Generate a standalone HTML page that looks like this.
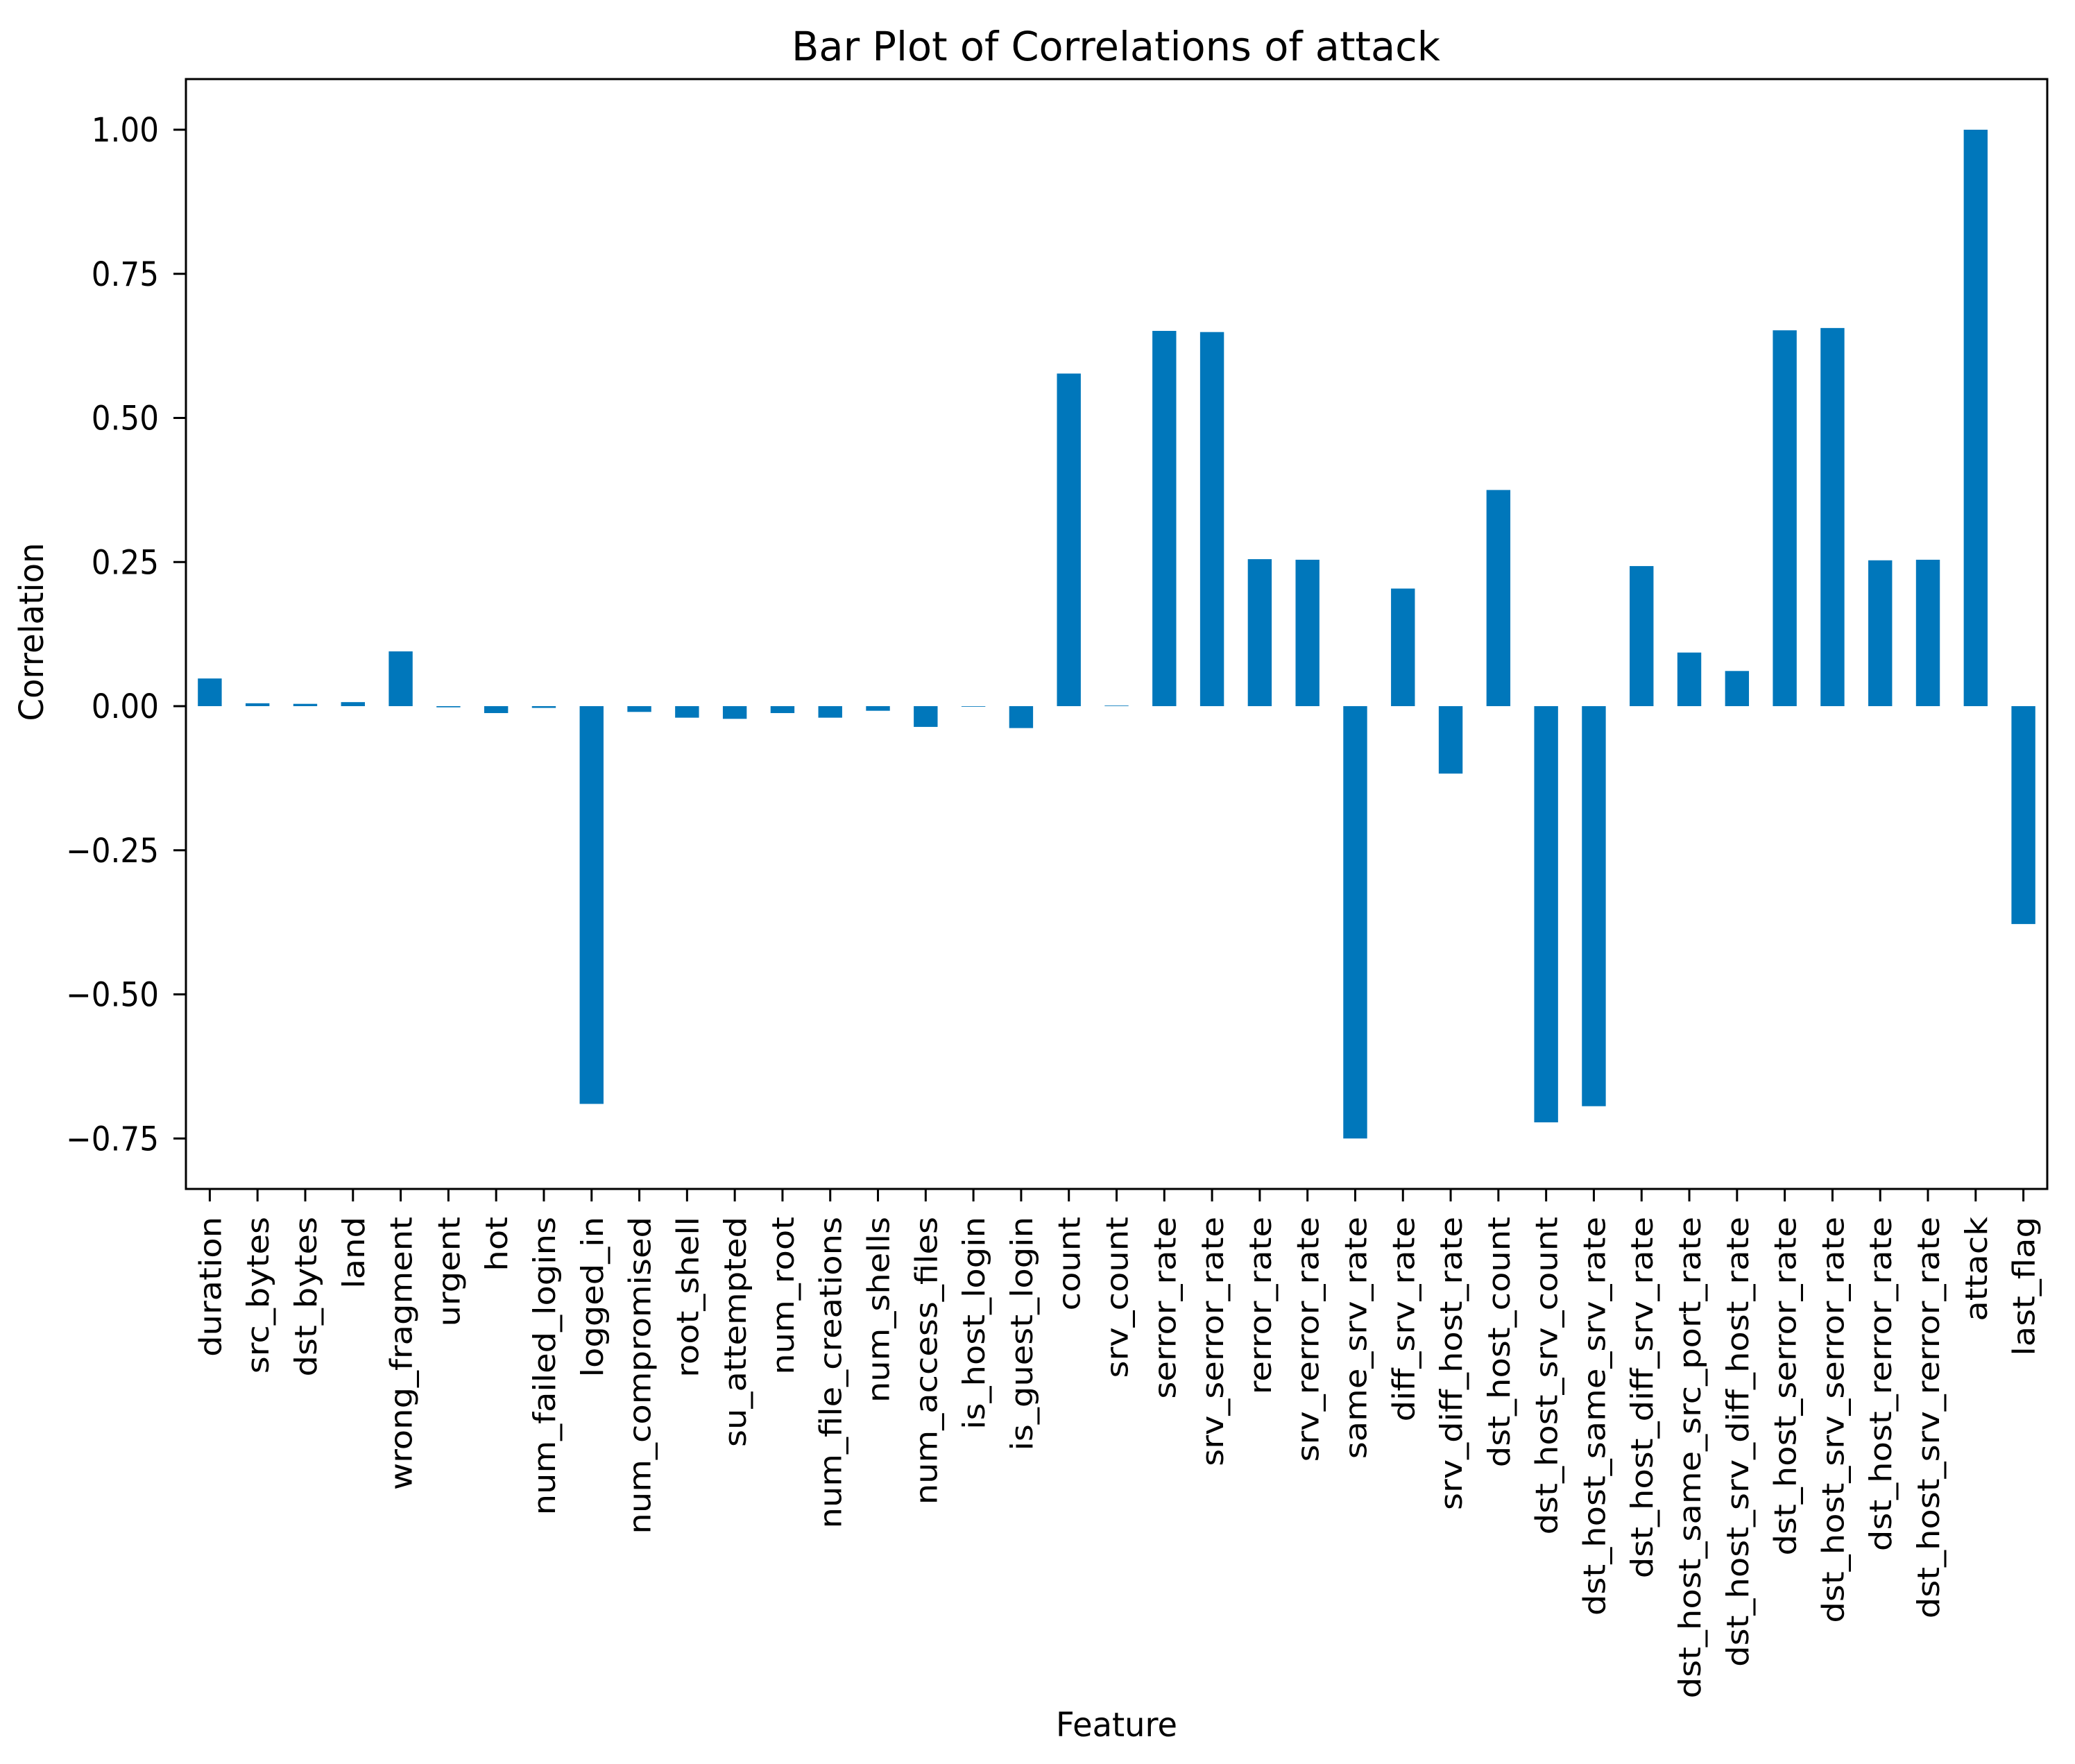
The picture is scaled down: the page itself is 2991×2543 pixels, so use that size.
<!DOCTYPE html>
<html><head><meta charset="utf-8"><style>body{margin:0;background:#fff}svg{display:block}text{font-family:"DejaVu Sans","Liberation Sans",sans-serif;fill:#000}</style></head>
<body>
<svg id="c" width="2991" height="2543"></svg>
<script>
const categories=["duration","src_bytes","dst_bytes","land","wrong_fragment","urgent","hot","num_failed_logins","logged_in","num_compromised","root_shell","su_attempted","num_root","num_file_creations","num_shells","num_access_files","is_host_login","is_guest_login","count","srv_count","serror_rate","srv_serror_rate","rerror_rate","srv_rerror_rate","same_srv_rate","diff_srv_rate","srv_diff_host_rate","dst_host_count","dst_host_srv_count","dst_host_same_srv_rate","dst_host_diff_srv_rate","dst_host_same_src_port_rate","dst_host_srv_diff_host_rate","dst_host_serror_rate","dst_host_srv_serror_rate","dst_host_rerror_rate","dst_host_srv_rerror_rate","attack","last_flag"];
const values=[0.048,0.005,0.004,0.007,0.095,-0.002,-0.012,-0.003,-0.69,-0.01,-0.02,-0.022,-0.012,-0.02,-0.008,-0.036,-0.001,-0.038,0.577,0.001,0.651,0.649,0.255,0.254,-0.75,0.204,-0.117,0.375,-0.722,-0.694,0.243,0.093,0.061,0.652,0.656,0.253,0.254,1.0,-0.378];
const yTicks=[1.0,0.75,0.5,0.25,0,-0.25,-0.5,-0.75];
const yTickLabels=["1.00","0.75","0.50","0.25","0.00","\u22120.25","\u22120.50","\u22120.75"];
const NS="http://www.w3.org/2000/svg",svg=document.getElementById('c');
const L=268,R=2951,T=114,B=1714;
const n=categories.length,step=(R-L)/n;
const xc=i=>L+step*(i+0.5);
const y=v=>1018-v*831;
function mk(t,a,txt){const e=document.createElementNS(NS,t);for(const k in a)e.setAttribute(k,a[k]);if(txt!=null)e.textContent=txt;svg.appendChild(e);return e;}
values.forEach((v,i)=>{const r=mk('rect',{x:xc(i)-step/4,y:Math.min(y(v),y(0)),width:step/2,height:Math.abs(y(v)-y(0)),fill:'#0077bb'});

});
const ax=mk('rect',{x:L,y:T,width:R-L,height:B-T,fill:'none',stroke:'#000','stroke-width':3});


yTicks.forEach((v,i)=>{mk('line',{x1:L-18,x2:L,y1:y(v),y2:y(v),stroke:'#000','stroke-width':3});
const t=mk('text',{x:0,y:0,'text-anchor':'end','font-size':48,transform:`translate(${L-39},${y(v)+17}) scale(0.91,1)`},yTickLabels[i]);

});
categories.forEach((c,i)=>{const x=xc(i);mk('line',{x1:x,x2:x,y1:B,y2:B+18,stroke:'#000','stroke-width':3});
const t=mk('text',{x:0,y:0,'text-anchor':'end','font-size':48,transform:`translate(${x+16},${B+40}) rotate(-90) scale(1,0.91)`},c);

});
const ti=mk('text',{x:1141,y:87,'font-size':58,textLength:935,lengthAdjust:'spacingAndGlyphs'},'Bar Plot of Correlations of attack');


const xl=mk('text',{x:1522,y:2503,'font-size':48,textLength:175,lengthAdjust:'spacingAndGlyphs'},'Feature');


const yl=mk('text',{x:0,y:0,'text-anchor':'middle','font-size':48,transform:`translate(62,${(T+B)/2-3}) rotate(-90)`,textLength:257,lengthAdjust:'spacingAndGlyphs'},'Correlation');


</script>
</body></html>
